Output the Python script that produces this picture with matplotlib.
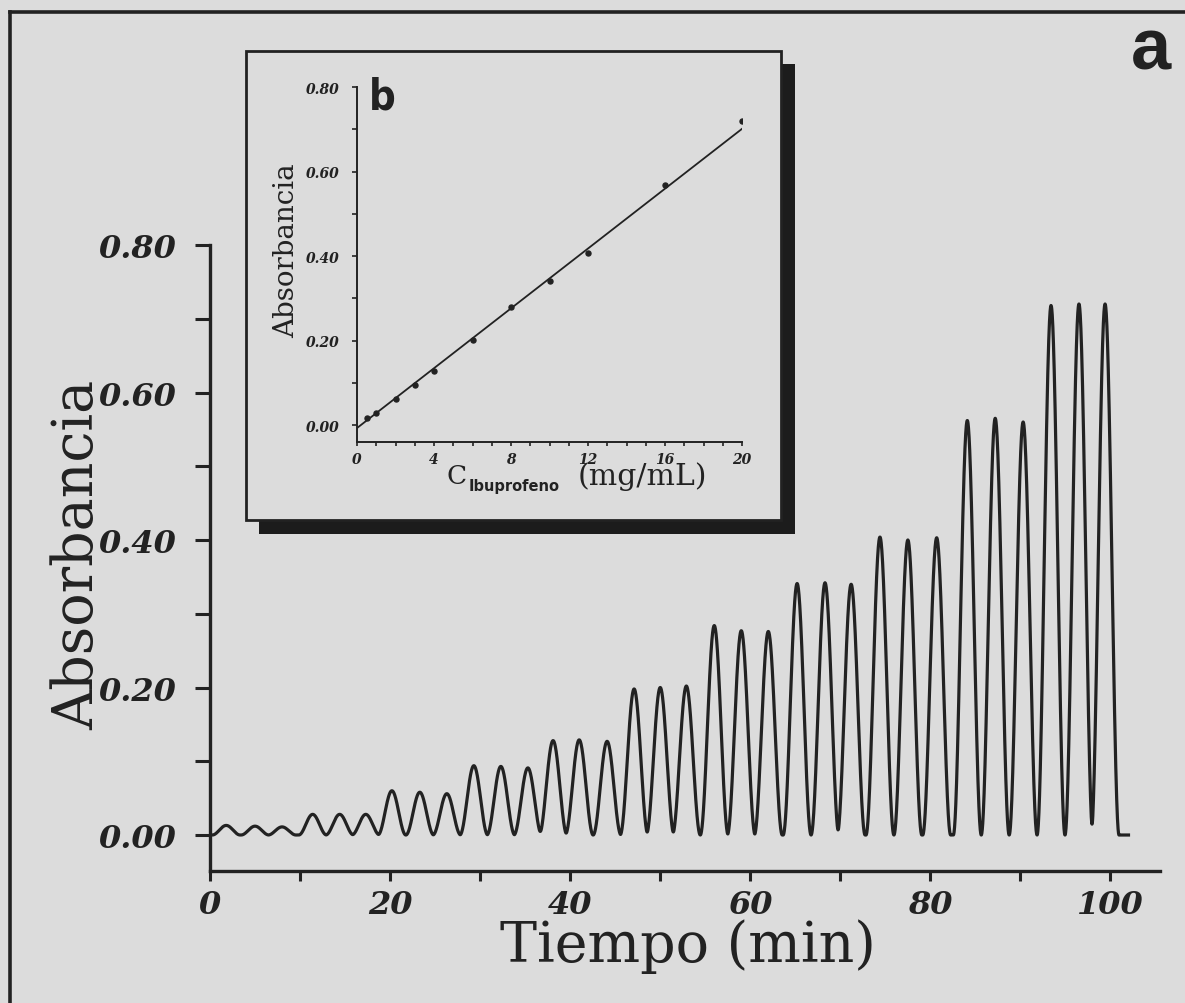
import numpy as np
import matplotlib
matplotlib.use("Agg")
import matplotlib.pyplot as plt
from matplotlib.patches import Rectangle
from matplotlib.lines import Line2D
from matplotlib.ticker import MultipleLocator, FixedLocator, FixedFormatter

# --- flow-injection record: peak times (min) and peak absorbances ---
peak_times = [1.8, 5.0, 8.0,
              11.4, 14.4, 17.3,
              20.2, 23.3, 26.3,
              29.3, 32.3, 35.3,
              38.1, 41.0, 44.1,
              47.1, 50.0, 52.9,
              56.0, 59.0, 62.0,
              65.2, 68.3, 71.2,
              74.4, 77.5, 80.7,
              84.1, 87.2, 90.3,
              93.4, 96.5, 99.4]
peak_heights = [0.013, 0.012, 0.011,
                0.028, 0.028, 0.028,
                0.060, 0.058, 0.056,
                0.094, 0.093, 0.091,
                0.128, 0.129, 0.127,
                0.198, 0.200, 0.202,
                0.284, 0.277, 0.276,
                0.341, 0.342, 0.340,
                0.404, 0.400, 0.403,
                0.562, 0.565, 0.560,
                0.718, 0.720, 0.720]
peak_base = 3.1        # base width of each injection peak (min)
record_end = 102.0     # end of the recording (min)

# --- calibration (inset b) ---
calib_conc = [0.5, 1.0, 2.0, 3.0, 4.0, 6.0, 8.0, 10.0, 12.0, 16.0, 20.0]
calib_abs = [0.016, 0.028, 0.062, 0.096, 0.127, 0.201, 0.279, 0.340, 0.407, 0.569, 0.719]
fit_intercept = -0.007
fit_slope = 0.0354

main_yticks = [0.0, 0.2, 0.4, 0.6, 0.8]
main_ytick_labels = ["0.00", "0.20", "0.40", "0.60", "0.80"]
main_xticks = [0, 20, 40, 60, 80, 100]
main_xtick_labels = ["0", "20", "40", "60", "80", "100"]
inset_yticks = [0.0, 0.2, 0.4, 0.6, 0.8]
inset_ytick_labels = ["0.00", "0.20", "0.40", "0.60", "0.80"]
inset_xticks = [0, 4, 8, 12, 16, 20]
inset_xtick_labels = ["0", "4", "8", "12", "16", "20"]

BG = "#dcdcdc"
INK = "#222222"
W, H = 1185, 1004

def fx(px):
    return px / W

def fy(py):
    return 1 - py / H

fig = plt.figure(figsize=(W / 100, H / 100), dpi=100, facecolor=BG)

# ---------------- main chromatogram ----------------
ax = fig.add_axes([fx(210), fy(872), fx(950), 626 / H])
ax.set_facecolor("none")

t = np.linspace(0, record_end, 6000)
a = np.zeros_like(t)
for t0, h in zip(peak_times, peak_heights):
    d = t - t0
    m = np.abs(d) < peak_base / 2
    a[m] += h * 0.5 * (1 + np.cos(2 * np.pi * d[m] / peak_base))
ax.plot(t, a, color=INK, lw=2.3, solid_joinstyle="round")

ax.set_xlim(0, 105.5)
ax.set_ylim(-0.0488, 0.80)
for s in ("top", "right"):
    ax.spines[s].set_visible(False)
for s in ("left", "bottom"):
    ax.spines[s].set_linewidth(2.4)
    ax.spines[s].set_color(INK)

ax.yaxis.set_major_locator(FixedLocator(main_yticks))
ax.yaxis.set_major_formatter(FixedFormatter(main_ytick_labels))
ax.yaxis.set_minor_locator(MultipleLocator(0.1))
ax.xaxis.set_major_locator(FixedLocator(main_xticks))
ax.xaxis.set_major_formatter(FixedFormatter(main_xtick_labels))
ax.xaxis.set_minor_locator(MultipleLocator(10))
ax.tick_params(axis="y", which="both", direction="out", length=11, width=2.2,
               color=INK, pad=13)
ax.tick_params(axis="x", which="both", direction="out", length=7, width=2.2,
               color=INK, pad=6)
for lab in ax.get_yticklabels() + ax.get_xticklabels():
    lab.set_fontfamily("DejaVu Serif")
    lab.set_fontweight("bold")
    lab.set_fontstyle("italic")
    lab.set_fontsize(23)
    lab.set_color(INK)

fig.text(fx(93), fy(555), "Absorbancia", rotation=90, rotation_mode="anchor",
         ha="center", va="baseline",
         fontfamily="DejaVu Serif", fontsize=40, color=INK)
fig.text(fx(688), fy(962), "Tiempo (min)", ha="center", va="baseline",
         fontfamily="DejaVu Serif", fontsize=40, color=INK)
fig.text(fx(1151), fy(50), "a", ha="center", va="center",
         fontfamily="Liberation Sans", fontweight="bold", fontsize=52, color=INK)

# page frame
fig.add_artist(Line2D([fx(10), 1.0], [fy(13), fy(13)], color=INK, lw=2.6,
                      transform=fig.transFigure))
fig.add_artist(Line2D([fx(10), fx(10)], [fy(13), 0.0], color=INK, lw=2.6,
                      transform=fig.transFigure))

# ---------------- inset b: calibration ----------------
shadow = Rectangle((fx(259), fy(535)), fx(795 - 259), (535 - 65) / H,
                   transform=fig.transFigure, facecolor="#1c1c1c",
                   edgecolor="none", zorder=2)
box = Rectangle((fx(246), fy(521)), fx(781 - 246), (521 - 52) / H,
                transform=fig.transFigure, facecolor=BG, edgecolor=INK,
                lw=2.0, zorder=3)
fig.add_artist(shadow)
fig.add_artist(box)

ins = fig.add_axes([fx(357), fy(443), fx(385), 355 / H])
ins.set_zorder(4)
ins.set_facecolor("none")
ins.set_xlim(0, 20)
ins.set_ylim(-0.040, 0.80)
cx = np.array([0.0, 20.0])
ins.plot(cx, fit_intercept + fit_slope * cx, color=INK, lw=1.3)
ins.plot(calib_conc, calib_abs, ls="none", marker="o", ms=3.6, color=INK)
for s in ("top", "right"):
    ins.spines[s].set_visible(False)
for s in ("left", "bottom"):
    ins.spines[s].set_linewidth(1.4)
    ins.spines[s].set_color(INK)
ins.yaxis.set_major_locator(FixedLocator(inset_yticks))
ins.yaxis.set_major_formatter(FixedFormatter(inset_ytick_labels))
ins.yaxis.set_minor_locator(MultipleLocator(0.1))
ins.xaxis.set_major_locator(FixedLocator(inset_xticks))
ins.xaxis.set_major_formatter(FixedFormatter(inset_xtick_labels))
ins.xaxis.set_minor_locator(MultipleLocator(1))
ins.tick_params(axis="y", which="both", direction="out", length=3.5, width=1.2,
                color=INK, pad=9)
ins.tick_params(axis="x", which="both", direction="out", length=3, width=1.2,
                color=INK, pad=4)
for lab in ins.get_yticklabels() + ins.get_xticklabels():
    lab.set_fontfamily("DejaVu Serif")
    lab.set_fontweight("bold")
    lab.set_fontstyle("italic")
    lab.set_fontsize(10)
    lab.set_color(INK)

fig.text(fx(287), fy(251), "Absorbancia", rotation=90, ha="center", va="center",
         fontfamily="DejaVu Serif", fontsize=20, color=INK, zorder=5)
fig.text(fx(382), fy(98), "b", ha="center", va="center",
         fontfamily="DejaVu Sans", fontweight="bold", fontsize=30,
         fontstretch="condensed", color=INK, zorder=5)
fig.text(fx(447), fy(477), "C", ha="left", va="center",
         fontfamily="DejaVu Serif", fontsize=19, color=INK, zorder=5)
fig.text(fx(469), fy(486), "Ibuprofeno", ha="left", va="center",
         fontfamily="DejaVu Sans", fontweight="bold", fontsize=10.5,
         color=INK, zorder=5)
fig.text(fx(578), fy(477), "(mg/mL)", ha="left", va="center",
         fontfamily="DejaVu Serif", fontsize=21.5, color=INK, zorder=5)

fig.savefig("out.png", dpi=100, facecolor=BG)
